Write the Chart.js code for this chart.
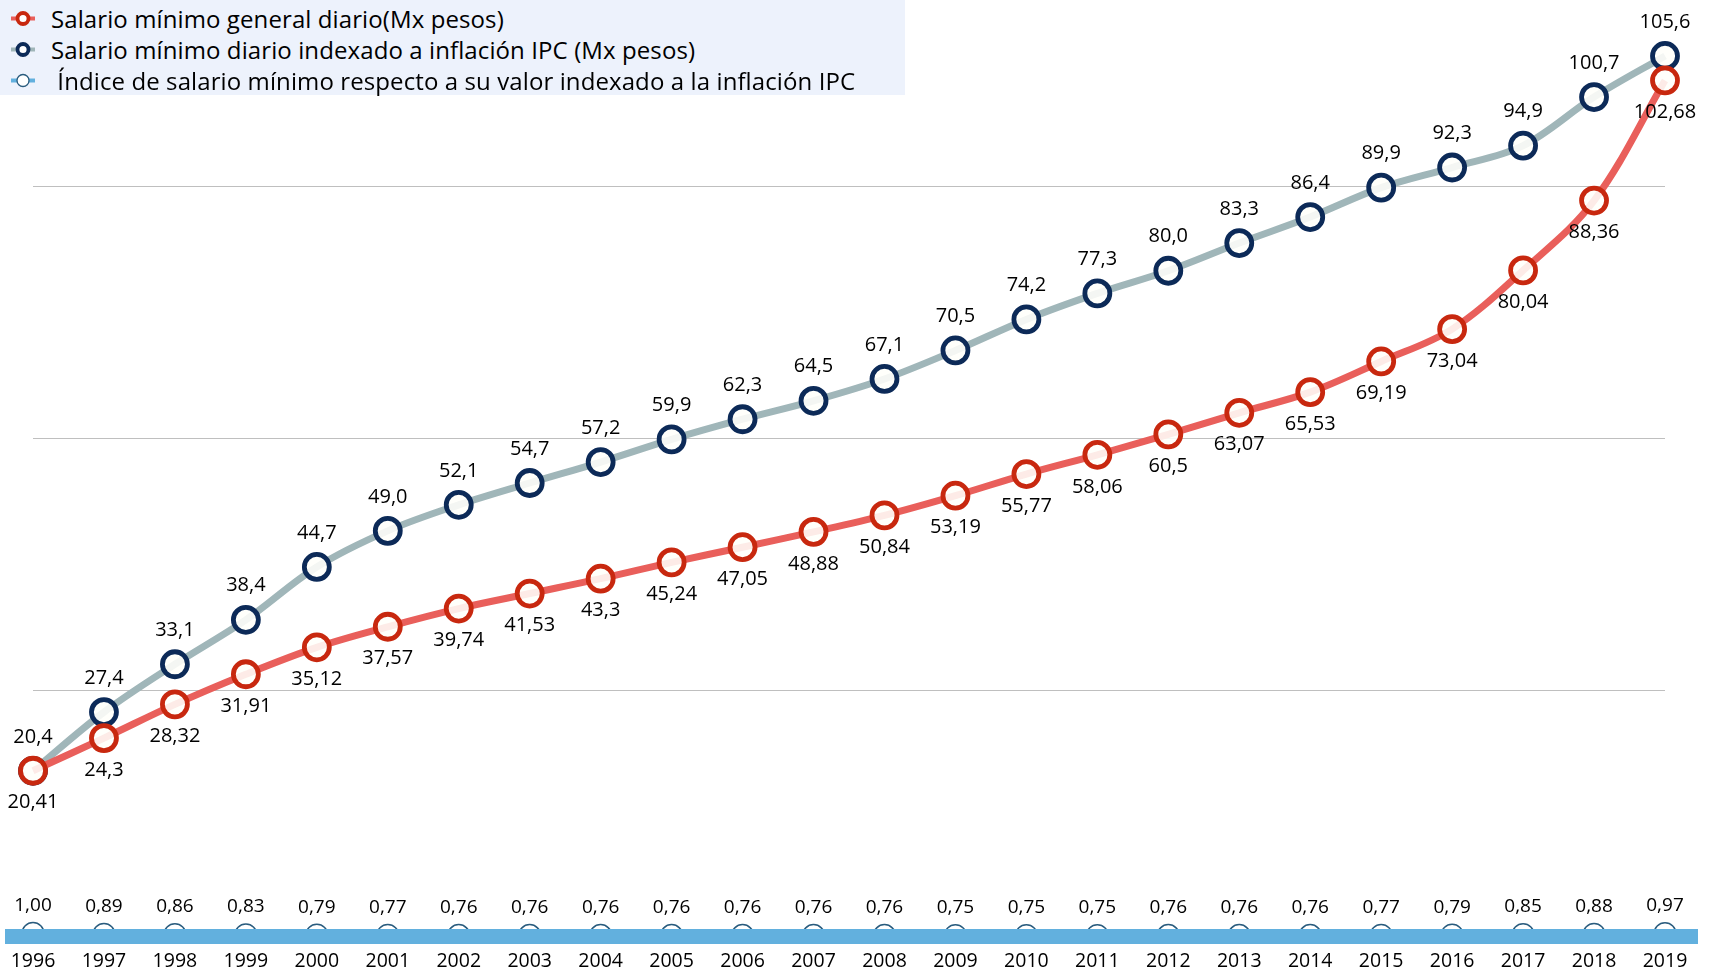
<!DOCTYPE html>
<html>
<head>
<meta charset="utf-8">
<script src="https://cdn.jsdelivr.net/npm/chart.js@4.4.1/dist/chart.umd.min.js"></script>
<style>
  html, body { margin: 0; padding: 0; background: #ffffff; }
  #wrap { position: relative; width: 1714px; height: 971px; }
  #legend { position: absolute; left: 0; top: 0; width: 905px; height: 95px; background: #EDF2FC;
            font-family: "Open Sans", sans-serif; font-size: 24px; color: #000; }
  .item { position: absolute; left: 0; height: 31px; width: 905px; }
  .item svg { position: absolute; left: 6px; top: 0; }
  .item span { position: absolute; left: 51px; top: 50%; transform: translateY(-52%); white-space: pre; line-height: 1; letter-spacing: 0.1px; }
</style>
</head>
<body>
<div id="wrap">
  <canvas id="c" width="1714" height="971"></canvas>
  <div id="legend"></div>
</div>
<script>
const years = ['1996','1997','1998','1999','2000','2001','2002','2003','2004','2005','2006','2007','2008','2009','2010','2011','2012','2013','2014','2015','2016','2017','2018','2019'];
const salarioGeneral = [20.41, 24.3, 28.32, 31.91, 35.12, 37.57, 39.74, 41.53, 43.3, 45.24, 47.05, 48.88, 50.84, 53.19, 55.77, 58.06, 60.5, 63.07, 65.53, 69.19, 73.04, 80.04, 88.36, 102.68];
const salarioIndexado = [20.4, 27.4, 33.1, 38.4, 44.7, 49.0, 52.1, 54.7, 57.2, 59.9, 62.3, 64.5, 67.1, 70.5, 74.2, 77.3, 80.0, 83.3, 86.4, 89.9, 92.3, 94.9, 100.7, 105.6];
const indiceSalario = [1.00, 0.89, 0.86, 0.83, 0.79, 0.77, 0.76, 0.76, 0.76, 0.76, 0.76, 0.76, 0.76, 0.75, 0.75, 0.75, 0.76, 0.76, 0.76, 0.77, 0.79, 0.85, 0.88, 0.97];
const gridValues = [30, 60, 90];
const seriesNames = [
  'Salario mínimo general diario(Mx pesos)',
  'Salario mínimo diario indexado a inflación IPC (Mx pesos)',
  ' Índice de salario mínimo respecto a su valor indexado a la inflación IPC'
];

const RED_LINE = '#E95F5B', RED_MARK = '#C8280F';
const GRAY_LINE = '#A0B6B9', NAVY_MARK = '#0C2A58';
const BAND = '#62B0DE', IDX_MARK = '#2A5C7E';
const FILL = 'rgba(255,255,250,0.88)';
const FONT = '"Open Sans", sans-serif';

// legend
const legend = document.getElementById('legend');
const legendStyles = [
  {line: RED_LINE, stroke: RED_MARK, r: 5.5, w: 3.8},
  {line: GRAY_LINE, stroke: NAVY_MARK, r: 5.5, w: 3.8},
  {line: BAND, stroke: IDX_MARK, r: 6, w: 1.3}
];
seriesNames.forEach((name, i) => {
  const st = legendStyles[i];
  const d = document.createElement('div');
  d.className = 'item';
  d.style.top = (3 + i * 31) + 'px';
  d.innerHTML = `<svg width="34" height="31"><line x1="5" y1="15.5" x2="29" y2="15.5" stroke="${st.line}" stroke-width="4"/>` +
    `<circle cx="17" cy="15.5" r="${st.r}" fill="#fff" stroke="${st.stroke}" stroke-width="${st.w}"/></svg><span>${name}</span>`;
  legend.appendChild(d);
});

const fmt2 = v => String(v).replace('.', ',');
const fmt1 = v => v.toFixed(1).replace('.', ',');
const fmtIdx = v => v.toFixed(2).replace('.', ',');

const labelPlugin = {
  id: 'labelsBand',
  afterDatasetsDraw(chart) {
    const ctx = chart.ctx;
    const ca = chart.chartArea;
    // band (category axis line)
    ctx.save();
    ctx.fillStyle = BAND;
    ctx.fillRect(5, ca.bottom - 13, 1693, 15);
    ctx.restore();

    ctx.save();
    ctx.font = '20px ' + FONT;
    ctx.fillStyle = '#000';
    ctx.textAlign = 'center';
    ctx.textBaseline = 'middle';
    const m0 = chart.getDatasetMeta(0), m1 = chart.getDatasetMeta(1), m2 = chart.getDatasetMeta(2);
    m1.data.forEach((p, i) => ctx.fillText(fmt1(salarioIndexado[i]), p.x, p.y - 34));
    m0.data.forEach((p, i) => ctx.fillText(fmt2(salarioGeneral[i]), p.x, p.y + 32));
    ctx.font = '19px ' + FONT;
    m2.data.forEach((p, i) => ctx.fillText(fmtIdx(indiceSalario[i]), p.x, p.y - 28));
    ctx.restore();
  }
};

new Chart(document.getElementById('c'), {
  type: 'line',
  data: {
    labels: years,
    datasets: [
      { label: seriesNames[0], data: salarioGeneral, borderColor: RED_LINE, borderWidth: 7,
        pointRadius: 12.5, pointBorderWidth: 4.8, pointBorderColor: RED_MARK, pointBackgroundColor: FILL,
        tension: 0.35 },
      { label: seriesNames[1], data: salarioIndexado, borderColor: GRAY_LINE, borderWidth: 7,
        pointRadius: 12.5, pointBorderWidth: 4.8, pointBorderColor: NAVY_MARK, pointBackgroundColor: FILL,
        tension: 0.35 },
      { label: seriesNames[2], data: indiceSalario, borderColor: BAND, borderWidth: 2,
        pointRadius: 11, pointBorderWidth: 1.5, pointBorderColor: IDX_MARK, pointBackgroundColor: '#fff',
        tension: 0 }
    ]
  },
  options: {
    responsive: false,
    animation: false,
    events: [],
    layout: { padding: { left: 33, right: 49, top: 19, bottom: 0 } },
    plugins: { legend: { display: false }, tooltip: { enabled: false } },
    scales: {
      x: {
        grid: { display: false },
        border: { display: false },
        ticks: { color: '#000', font: { family: FONT, size: 19.5 }, padding: 0, autoSkip: false, maxRotation: 0 },
        afterFit: s => { s.height = 29; }
      },
      y: {
        min: 0, max: 110,
        grid: { color: '#BFBFBF', lineWidth: 1, drawTicks: false },
        border: { display: false },
        ticks: { display: false },
        afterBuildTicks: s => { s.ticks = gridValues.map(v => ({ value: v })); },
        afterFit: s => { s.width = 0; }
      }
    }
  },
  plugins: [labelPlugin]
});
</script>
</body>
</html>
